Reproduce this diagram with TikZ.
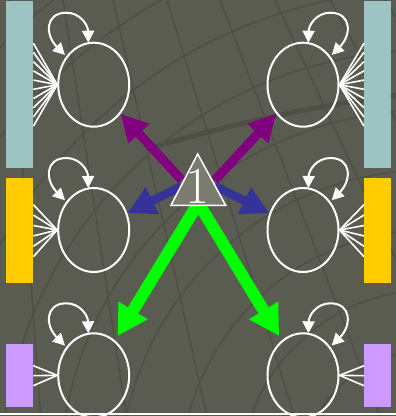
\documentclass[tikz,border=0pt]{standalone}
\usetikzlibrary{arrows.meta,shapes.geometric,calc}
\definecolor{bgc}{HTML}{5B5C51}
\definecolor{gridc}{HTML}{4E4F45}
\definecolor{tric}{HTML}{7B7B6F}
\definecolor{cTeal}{HTML}{9BC4C3}
\definecolor{cYel}{HTML}{FFCC00}
\definecolor{cLav}{HTML}{CC99FF}
\definecolor{cPur}{HTML}{800080}
\definecolor{cBlu}{HTML}{333399}
\definecolor{cGrn}{HTML}{00FF00}
\begin{document}
\begin{tikzpicture}[x=1pt,y=-1pt,
  st/.style={ellipse, draw=white, line width=2pt, minimum width=71pt, minimum height=84pt, inner sep=0pt},
  bar/.style={inner sep=0pt, minimum width=27pt, anchor=north west},
  fan/.style={white, line width=1.6pt},
  loopst/.style={white, line width=2pt, {Triangle[length=12pt,width=12pt]}-{Triangle[length=12pt,width=12pt]}},
  gridln/.style={gridc, line width=1.5pt},
  parr/.style={cPur, line width=9pt, -{Triangle[length=27pt,width=27pt]}},
  barr/.style={cBlu, line width=8.5pt, -{Triangle[length=28pt,width=28pt]}},
  garr/.style={cGrn, line width=12pt, -{Triangle[length=30pt,width=32pt]}, shorten >=5pt}]
\fill[bgc] (0,0) rectangle (396,416);
\useasboundingbox (0,0) rectangle (396,416);
% background grid
\begin{scope}
\clip (0,0) rectangle (396,416);
\foreach \r in {130,190,...,610} \draw[gridln] (430,480) circle[radius=\r];
\foreach \x in {-90,-35,10,63,113,167,220,275,330,385,440} \draw[gridln] (\x,0) -- ({\x+(\x+40)*0.62},420);
\draw[gridc, line width=5pt] (150,148) .. controls (230,125) and (300,108) .. (400,95);
\end{scope}
% bars
\node[bar, fill=cTeal, minimum height=167pt] (bL1) at (6,1) {};
\node[bar, fill=cYel, minimum height=105pt] (bL2) at (6,178) {};
\node[bar, fill=cLav, minimum height=63pt] (bL3) at (6,344) {};
\node[bar, fill=cTeal, minimum height=167pt] (bR1) at (364,1) {};
\node[bar, fill=cYel, minimum height=105pt] (bR2) at (364,178) {};
\node[bar, fill=cLav, minimum height=63pt] (bR3) at (364,344) {};
% ellipses
\node[st] (L1) at (93.7,84.7) {};
\node[st] (L2) at (93.7,230) {};
\node[st] (L3) at (93.7,375.3) {};
\node[st] (R1) at (303,84.7) {};
\node[st] (R2) at (303,230) {};
\node[st] (R3) at (303,375.3) {};
% fans
\foreach \i in {0,...,9} {
  \draw[fan] (L1.west) -- ([yshift={41.5-\i*9.222}]bL1.east);
  \draw[fan] (R1.east) -- ([yshift={41.5-\i*9.222}]bR1.west);
}
\foreach \i in {0,...,5} {
  \draw[fan] (L2.west) -- ([yshift={26-\i*10.4}]bL2.east);
  \draw[fan] (R2.east) -- ([yshift={26-\i*10.4}]bR2.west);
}
\foreach \i in {0,...,2} {
  \draw[fan] (L3.west) -- ([yshift={10-\i*10}]bL3.east);
  \draw[fan] (R3.east) -- ([yshift={10-\i*10}]bR3.west);
}
% self loops
\foreach \n/\s in {L1/1,L2/1,L3/1,R1/-1,R2/-1,R3/-1}
  \draw[loopst] ($(\n)+({-28.7*\s},-29.7)$) .. controls ($(\n)+({-48.7*\s},-49.7)$) and ($(\n)+({-48.7*\s},-71.7)$) .. ($(\n)+({-27.7*\s},-72)$)
     .. controls ($(\n)+({-13.7*\s},-72.2)$) and ($(\n)+({-5.7*\s},-59.7)$) .. ($(\n)+({-5.4*\s},-42)$);
% arrows
\coordinate (pl) at (181.7,180);
\coordinate (pr) at (215,180);
\coordinate (bl) at (181.7,186);
\coordinate (br) at (215,186);
\coordinate (g) at (198.3,203);
\draw[parr] (pl) -- (L1);
\draw[parr] (pr) -- (R1);
\draw[barr] (bl) -- (L2);
\draw[barr] (br) -- (R2);
\draw[garr] (g) -- (L3);
\draw[garr] (g) -- (R3);
% triangle
\filldraw[fill=tric, draw=white, line width=1.5pt] (197.7,154) -- (171,205.3) -- (225.7,205.3) -- cycle;
\node[white, inner sep=0pt] (t) at (197.7,186) {\fontsize{52}{52}\selectfont 1};
% bottom line
\draw[white, line width=2pt] (0,413.5) -- (396,413.5);
\end{tikzpicture}
\end{document}
